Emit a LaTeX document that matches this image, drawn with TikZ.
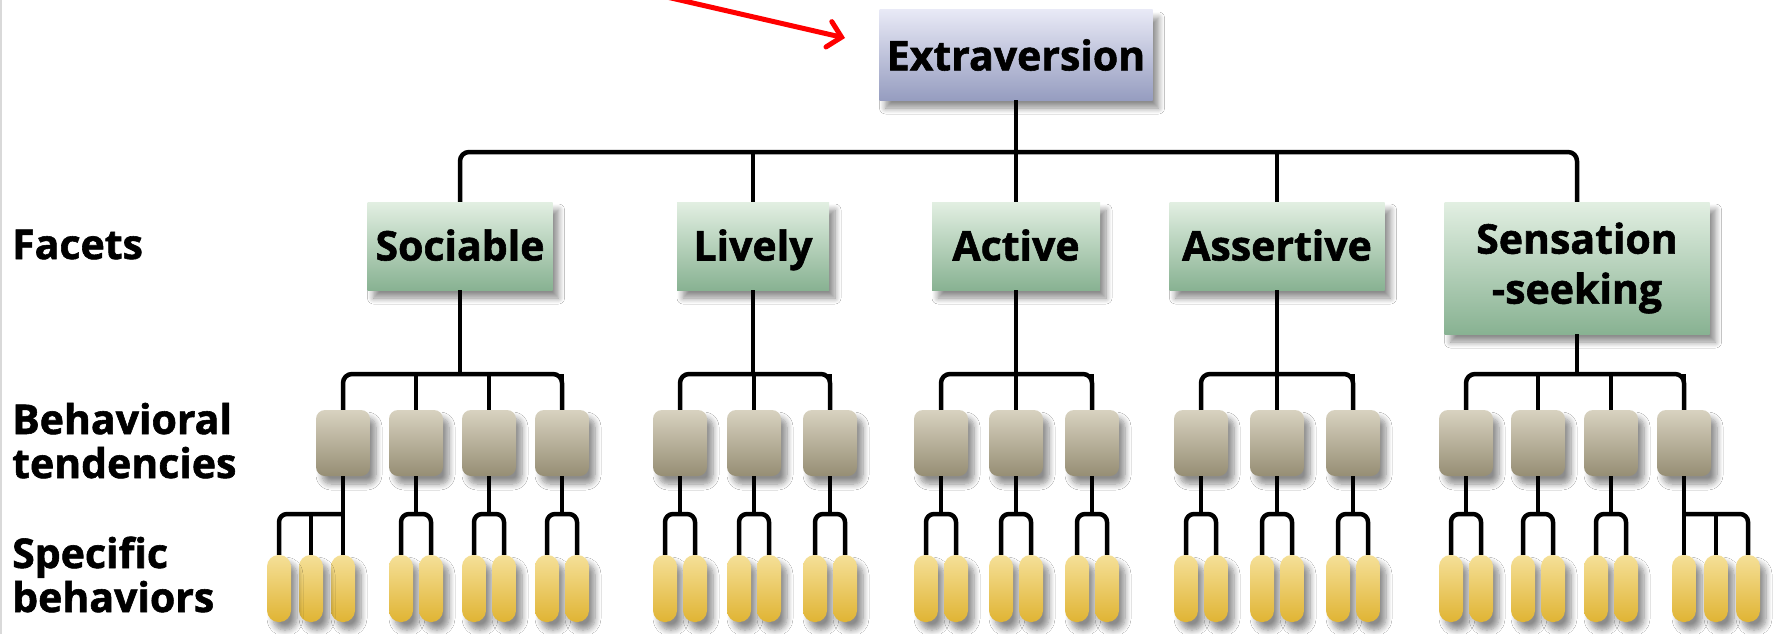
\documentclass[tikz,border=0pt]{standalone}
\usepackage{fontspec}
\setmainfont{Open Sans}[BoldFeatures={FakeBold=1.4}]
\usetikzlibrary{arrows.meta,shadows.blur}

\definecolor{extratop}{RGB}{232,233,246}
\definecolor{extrabot}{RGB}{150,157,192}
\definecolor{facettop}{RGB}{226,239,226}
\definecolor{facetbot}{RGB}{136,178,146}
\definecolor{tendtop}{RGB}{216,210,192}
\definecolor{tendbot}{RGB}{150,142,116}
\definecolor{behtop}{RGB}{245,224,152}
\definecolor{behbot}{RGB}{224,180,52}

\tikzset{
  wire/.style={line width=4.5pt, line join=round},
  softshadow/.style={blur shadow={shadow xshift=6pt, shadow yshift=-8pt, shadow opacity=45,
    shadow blur radius=6pt, shadow blur steps=8}},
  topbox/.style={softshadow, rectangle, inner sep=0pt, minimum width=273pt, minimum height=90pt,
    top color=extratop, bottom color=extrabot, font=\fontsize{41}{48}\selectfont\bfseries},
  facet/.style={softshadow, rectangle, inner sep=0pt, minimum height=88pt,
    top color=facettop, bottom color=facetbot, font=\fontsize{41}{50}\selectfont\bfseries},
  facet1/.style={facet, text height=29pt, text depth=0pt},
  tendency/.style={softshadow, rounded corners=9pt, inner sep=0pt, minimum width=54pt, minimum height=66pt,
    top color=tendtop, bottom color=tendbot},
  behavior/.style={softshadow, rounded corners=11.5pt, inner sep=0pt, minimum width=24pt, minimum height=67pt,
    top color=behtop, bottom color=behbot},
  level/.style={anchor=base west, align=left, inner sep=0pt, font=\fontsize{41}{44}\selectfont\bfseries}
}

\begin{document}
\begin{tikzpicture}[x=1pt,y=-1pt]
\useasboundingbox (0,0) rectangle (1787,634);
\clip (0,0) rectangle (1787,634);
\fill[white] (0,0) rectangle (1787,634);
\draw[black!15, line width=2pt] (1,0) -- (1,634);

% levels
\node[level] (lfacets) at (12,259) {Facets};
\node[level] (ltend) at (12,478) {Behavioral\\tendencies};
\node[level] (lspec) at (12,612) {Specific\\behaviors};

% trait and facets
\node[topbox] (extra) at (1016,55) {Extraversion};
\node[facet1, minimum width=185pt] (soc) at (460,246) {Sociable};
\node[facet1, minimum width=152pt] (liv) at (753,246) {Lively};
\node[facet1, minimum width=168pt] (act) at (1016,246) {Active};
\node[facet1, minimum width=215pt] (ass) at (1277,246) {Assertive};
\node[facet, minimum width=265pt, minimum height=132pt, align=center] (sen) at (1577,268) {Sensation\\-seeking};

\coordinate (bus1) at (0,152);
\coordinate (bus2) at (0,374);
\coordinate (forkrow) at (0,514);
\coordinate (pillrow) at (0,588.5);

% behavioral tendencies
\foreach \g/\xs in {soc/{343,416,489,562},liv/{680,754,830},act/{941,1016,1092},
                    ass/{1201,1277,1353},sen/{1466,1538,1611,1684}}
  \foreach \x [count=\i] in \xs
    \node[tendency] (\g-\i) at (\x,443) {};

% specific behaviors
\foreach \b in {soc-2,soc-3,soc-4,liv-1,liv-2,liv-3,act-1,act-2,act-3,ass-1,ass-2,ass-3,sen-1,sen-2,sen-3}
  \path (\b.center |- pillrow) ++(-15,0) node[behavior] (\b-a) {} ++(30,0) node[behavior] (\b-b) {};
\path (soc-1.center |- pillrow) node[behavior] (soc-1-c) {} ++(-32,0) node[behavior] (soc-1-b) {}
  ++(-32,0) node[behavior] (soc-1-a) {};
\path (sen-4.center |- pillrow) node[behavior] (sen-4-a) {} ++(32,0) node[behavior] (sen-4-b) {}
  ++(32,0) node[behavior] (sen-4-c) {};

% connectors
\draw[wire, rounded corners=9pt] (soc.north) |- (sen.north |- bus1) -- (sen.north);
\draw[wire] (extra.south) -- (act.north);
\draw[wire] (liv.north) -- (liv.north |- bus1);
\draw[wire] (ass.north) -- (ass.north |- bus1);

\foreach \g/\n in {soc/4,liv/3,act/3,ass/3,sen/4} {
  \draw[wire, rounded corners=9pt] (\g-1.north) |- (\g-\n.north |- bus2) -- (\g-\n.north);
  \draw[wire] (\g.south) -- (\g.south |- bus2);
  \foreach \i in {2,...,\n}
    \draw[wire] (\g-\i.north) -- (\g-\i.north |- bus2);
}

\foreach \b in {soc-2,soc-3,soc-4,liv-1,liv-2,liv-3,act-1,act-2,act-3,ass-1,ass-2,ass-3,sen-1,sen-2,sen-3} {
  \draw[wire] (\b.south) -- (\b.south |- forkrow);
  \draw[wire, rounded corners=8pt] (\b-a.north) |- (\b-b.north |- forkrow) -- (\b-b.north);
}
\draw[wire] (soc-1.south) -- (soc-1-c.north);
\draw[wire, rounded corners=8pt] (soc-1-a.north) |- (soc-1-c.north |- forkrow);
\draw[wire] (soc-1-b.north) -- (soc-1-b.north |- forkrow);
\draw[wire] (sen-4.south) -- (sen-4-a.north);
\draw[wire, rounded corners=8pt] (sen-4-c.north) |- (sen-4-a.north |- forkrow);
\draw[wire] (sen-4-b.north) -- (sen-4-b.north |- forkrow);

% pointer
\coordinate (ptrstart) at (645,-8);
\coordinate (ptrtip) at (845,38);
\draw[red, line width=5pt, -{Straight Barb[length=13pt, width=26pt, line cap=round]}] (ptrstart) -- (ptrtip);
\end{tikzpicture}
\end{document}
